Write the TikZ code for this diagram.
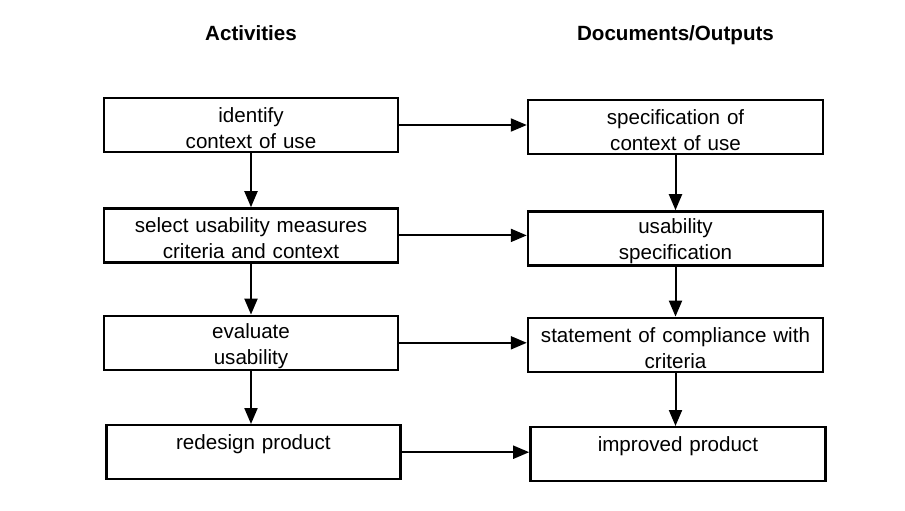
\documentclass[tikz,border=0pt]{standalone}
\usepackage{fontspec}
\setmainfont{Liberation Sans}
\usepackage{tikz}
\usetikzlibrary{positioning, arrows.meta}
\tikzstyle{activity} = [rectangle, minimum width=147pt, minimum height=27pt, text width=146pt, inner sep=0pt, align=center, draw=black, line width=1.2pt, font=\fontsize{10.3}{13}\selectfont, execute at begin node=\rule{0pt}{10.5pt}]
\tikzstyle{output}   = [activity, minimum width=147.5pt]
\tikzstyle{heading}  = [font=\fontsize{10.3}{13}\selectfont\bfseries, inner sep=0pt]
\tikzstyle{flow}     = [-{Triangle[length=8pt, width=6.5pt]}, line width=1pt]

\begin{document}
\begin{tikzpicture}
            \useasboundingbox (-125.5pt,-192.5pt) rectangle (327pt,62.5pt);
            \node[activity] (ident) {identify\\context of use};
            \node[activity] (select) [below=27pt of ident] {select usability measures\\criteria and context};
            \node[activity] (eval)   [below=25.5pt of select] {evaluate\\usability};
            \node[activity] (redes)  [below=26.5pt of eval, xshift=1.2pt] {redesign product\\\mbox{}};

            \node[output] (spec)    [right=63.8pt of ident, yshift=-1pt] {specification of\\context of use};
            \node[output] (usespec) [below=27.5pt of spec] {usability\\specification};
            \node[output] (comply)  [below=25pt of usespec] {statement of compliance with\\criteria};
            \node[output] (improv)  [below=26.5pt of comply, xshift=1.2pt] {improved product\\\mbox{}};

            \node[heading] (acts) [above=28pt of ident] {Activities};
            \node[heading, anchor=base] (docs) at (acts.base -| spec) {Documents/Outputs};

            \draw[flow] (ident.east) -- (ident.east -| spec.west);
            \draw[flow] (select.east) -- (select.east -| usespec.west);
            \draw[flow] (eval.east) -- (eval.east -| comply.west);
            \draw[flow] (redes.east) -- (redes.east -| improv.west);

            \draw[flow] (ident.south) -- (select.north);
            \draw[flow] (select.south) -- (eval.north);
            \draw[flow] (eval.south) -- (eval.south |- redes.north);
            \draw[flow] (spec.south) -- (usespec.north);
            \draw[flow] (usespec.south) -- (comply.north);
            \draw[flow] (comply.south) -- (comply.south |- improv.north);
        \end{tikzpicture}
\end{document}
